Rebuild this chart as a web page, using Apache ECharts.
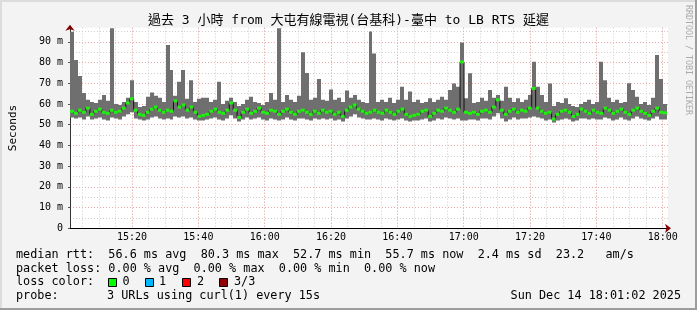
<!DOCTYPE html>
<html><head><meta charset="utf-8">
<script src="https://cdn.jsdelivr.net/npm/echarts@6/dist/echarts.min.js"></script>
<style>html,body{margin:0;padding:0;background:#f3f3f3}#c{width:697px;height:310px}</style>
</head><body><div id="c"></div>
<script>
// time axis: minutes after 15:00
const START_MIN = 1.3;
const END_MIN = 181.6;
const STEP_MIN = 1.2;
const xTickLabels = ['15:20','15:40','16:00','16:20','16:40','17:00','17:20','17:40','18:00'];
const yTickLabels = ['0','10 m','20 m','30 m','40 m','50 m','60 m','70 m','80 m','90 m'];

const medianMs = [
 56.5,55.5,57,56,58,55,56.5,57.5,56,55.5,
 57,56,56.5,58,60.5,62.5,57,55,54.5,56,
 57.5,58.5,57,56,57,56.5,61.5,58.5,59.5,57,
 58.5,56,54,54.5,55,56.5,57.5,56,55.5,57,
 60.5,57,53.5,56,57.5,55.5,56.5,58,56,55.5,
 57,56.5,55,56.5,57.5,56,55,56.5,57,56,
 55,56.5,55.5,57,56,56.5,55,56,54,57,
 58.5,59.5,57.5,56.5,55.5,56,57,56,55.5,57,
 56,55,56.5,57.5,55,54,54.5,55,56.5,57,
 54,55.5,57,56.5,58,57,56,57.5,80.3,56,
 55.5,56,55,56.5,57,56,58.5,62,57,55,
 56.5,57.5,56,57,56.5,58,67.5,58,56.5,55.5,
 56,52.7,55,56.5,57,56,54,55,57.5,56.5,
 55.5,57,56,55.5,58,57,55.5,56.5,57.5,56,
 55,57,58,56.5,55.5,54.5,56.5,58,56,55.7];
const lowMs = [
 53.5,53,53.5,52.5,54,52.5,53,53.5,52.5,52,
 53.5,53,52.5,54,55,56,53,52.5,52,52.5,
 53.5,54,53,52.5,53,52.5,54,53.5,54,53,
 53.5,52.5,52,52,52.5,53,53.5,52.5,52,53,
 54.5,53,51.5,52.5,53.5,52.5,53,53.5,52.5,52,
 53,52.5,52,52.5,53.5,52.5,52,53,53,52.5,
 52,53,52.5,53,52.5,53,52,52.5,51.5,53,
 54,55,53.5,53,52.5,52.5,53,52.5,52,53,
 52.5,52,52.5,53,52,51.5,52,52,52.5,53,
 51.5,52,53,52.5,53.5,53,52.5,53,52,52,
 52.5,52.5,52,53,53,52.5,54,55.5,53,51.5,
 52.5,53.5,52.5,53,53,53.5,54,53.5,53,52,
 52.5,51,52,52.5,53,52.5,51.5,52,53,53,
 52.5,53,52.5,52.5,53.5,53,52,52.5,53.5,52.5,
 52,53,54,53,52.5,52,53,54,52.5,52.5];
const highMs = [
 94.8,81.2,73.5,65.3,62,61,60.5,62,64.3,61.5,
 96.5,60,59.5,61,63,71.5,61,58.5,59,63.5,
 65.5,64,63,61,88.4,76.4,64,70.7,76.4,62.5,
 71.5,61,62.5,63,63,61,62,70.7,60,61.5,
 63,61,59,60,62,63.5,61,60.5,59.5,61,
 65.3,62,96.5,61,64.3,62,61,64,85,75,
 62,63,72,62,61.5,67,62,63,61,66.5,
 63,64.3,62,61,60.5,95,84.4,61,62,61,
 63,60.5,62,68.3,62,66,61,62,60.5,61,
 62.7,61,62,63.5,62,66.7,69.9,68.3,89.6,62.7,
 74.8,60.5,61,63,61.5,66.7,63,64.3,61.5,68.3,
 63,61,62.7,61,62,64.3,80.4,68.3,64.3,61,
 69.9,59,61,60.5,62.7,60,59,58.5,60,61,
 62,60,61,80.4,71.5,63,61,62,60.5,61,
 70,66.7,63.5,60,61,59.5,63,83.6,72,60];

const times = medianMs.map((_, i) => START_MIN + (i + 0.5) * STEP_MIN);
const smokeData = times.map((t, i) => [t, lowMs[i], highMs[i]]);
const medianData = times.map((t, i) => [t, medianMs[i]]);

const MONO = "'DejaVu Sans Mono', 'Noto Sans CJK TC', monospace";
const MAJOR = '#eeaaaa';
const MINOR = '#cfcfcf';
const Y_MAX = 96.8;

const chart = echarts.init(document.getElementById('c'), null, {renderer: 'canvas'});

function txt(x, y, s, extra) {
  return Object.assign({type: 'text', x: x, y: y, silent: true,
    style: Object.assign({text: s, font: '11.8px ' + MONO, fill: '#000', textVerticalAlign: 'middle'}, extra || {})});
}
function sq(x, y, color) {
  return {type: 'rect', silent: true, shape: {x: x + 0.5, y: y + 0.5, width: 8, height: 8},
    style: {fill: color, stroke: '#000', lineWidth: 1}};
}

chart.setOption({
  animation: false,
  backgroundColor: '#f3f3f3',
  title: {
    text: '過去 3 小時 from 大屯有線電視(台基科)-臺中 to LB RTS 延遲',
    left: 'center', top: 14, padding: 0,
    textStyle: {fontFamily: MONO, fontSize: 13, fontWeight: 'normal', color: '#000'}
  },
  grid: {left: 67, right: 29, top: 27.7, bottom: 81.7, show: true, backgroundColor: '#ffffff', borderWidth: 0},
  xAxis: [
    {
      type: 'value', position: 'bottom', min: START_MIN, max: END_MIN, splitNumber: 36,
      axisLine: {show: true, lineStyle: {color: '#800000', width: 1}, symbol: ['none', 'arrow'], symbolSize: [7, 6], symbolOffset: [0, 3]},
      axisTick: {show: false}, axisLabel: {show: false},
      splitLine: {show: true, showMinLine: false, showMaxLine: false, lineStyle: {color: MINOR, type: [1, 2], width: 1}}
    },
    {
      type: 'value', position: 'bottom', min: START_MIN, max: END_MIN, splitNumber: 9,
      axisLine: {show: true, lineStyle: {color: '#000', width: 1}},
      axisTick: {show: false},
      axisLabel: {
        show: true, margin: 4, showMinLabel: false, showMaxLabel: false,
        fontFamily: MONO, fontSize: 10, color: '#000',
        formatter: v => { const k = Math.round(v / 20) - 1; return xTickLabels[k] || ''; }
      },
      splitLine: {show: true, showMinLine: false, showMaxLine: false, lineStyle: {color: MAJOR, type: [1, 2], width: 1}}
    }
  ],
  yAxis: [
    {
      type: 'value', position: 'left', min: 0, max: Y_MAX, splitNumber: 19,
      axisLine: {show: true, lineStyle: {color: '#800000', width: 1}, symbol: ['none', 'arrow'], symbolSize: [7, 6], symbolOffset: [0, 3]},
      axisTick: {show: false}, axisLabel: {show: false},
      splitLine: {show: true, showMinLine: false, showMaxLine: false, lineStyle: {color: MINOR, type: [1, 2], width: 1}}
    },
    {
      type: 'value', position: 'left', min: 0, max: Y_MAX, interval: 10,
      name: 'Seconds', nameLocation: 'middle', nameGap: 51, nameRotate: 90,
      nameTextStyle: {fontFamily: MONO, fontSize: 11, color: '#000'},
      axisLine: {show: true, lineStyle: {color: '#333', width: 1}},
      axisTick: {show: true, length: 2, lineStyle: {color: '#555'}},
      axisLabel: {
        show: true, margin: 7, showMaxLabel: false, fontFamily: MONO, fontSize: 10, color: '#000',
        formatter: v => yTickLabels[Math.round(v / 10)] || ''
      },
      splitLine: {show: true, showMinLine: false, showMaxLine: false, lineStyle: {color: MAJOR, type: [1, 2], width: 1}}
    }
  ],
  series: [
    {
      type: 'custom', name: 'smoke', xAxisIndex: 1, yAxisIndex: 1, z: 2, silent: true,
      data: smokeData, encode: {x: 0, y: [1, 2]}, clip: true,
      renderItem: function (params, api) {
        const t = api.value(0), lo = api.value(1), hi = api.value(2);
        const a = api.coord([t - STEP_MIN / 2, hi]);
        const b = api.coord([t + STEP_MIN / 2, lo]);
        const x0 = Math.round(a[0]), x1 = Math.round(b[0]);
        return {type: 'rect', shape: {x: x0, y: a[1], width: x1 - x0, height: b[1] - a[1]},
          style: {fill: '#6f6f6f'}};
      }
    },
    {
      type: 'line', name: 'median', xAxisIndex: 1, yAxisIndex: 1, z: 3, silent: true,
      data: medianData, step: 'middle',
      lineStyle: {color: '#111', width: 1},
      symbol: 'rect', symbolSize: [4, 3], showSymbol: true, showAllSymbol: true,
      itemStyle: {color: '#22ee11', borderWidth: 0}
    }
  ],
  graphic: [
    {type: 'rect', silent: true, shape: {x: 0, y: 0, width: 697, height: 2}, style: {fill: '#dcdcdc'}},
    {type: 'rect', silent: true, shape: {x: 0, y: 0, width: 2, height: 310}, style: {fill: '#dcdcdc'}},
    {type: 'rect', silent: true, shape: {x: 695, y: 0, width: 2, height: 310}, style: {fill: '#9c9c9c'}},
    {type: 'rect', silent: true, shape: {x: 0, y: 308, width: 697, height: 2}, style: {fill: '#9c9c9c'}},
    {type: 'text', x: 688, y: 5, rotation: -Math.PI / 2, silent: true,
      style: {text: 'RRDTOOL / TOBI OETIKER', font: '8.3px ' + MONO, fill: '#aaaaaa', textVerticalAlign: 'middle'}},
    txt(16, 255, 'median rtt:  56.6 ms avg  80.3 ms max  52.7 ms min  55.7 ms now  2.4 ms sd  23.2   am/s'),
    txt(16, 268.5, 'packet loss: 0.00 % avg  0.00 % max  0.00 % min  0.00 % now'),
    txt(16, 282.3, 'loss color:'),
    sq(108, 278, '#00ff00'),
    txt(122.5, 282.3, '0'),
    sq(145, 278, '#00b8ff'),
    txt(159, 282.3, '1'),
    sq(182, 278, '#ff0000'),
    txt(197, 282.3, '2'),
    sq(219, 278, '#8f0000'),
    txt(234, 282.3, '3/3'),
    txt(16, 296, 'probe:'),
    txt(107, 296, '3 URLs using curl(1) every 15s'),
    txt(681, 296, 'Sun Dec 14 18:01:02 2025', {textAlign: 'right'})
  ]
});
</script></body></html>
